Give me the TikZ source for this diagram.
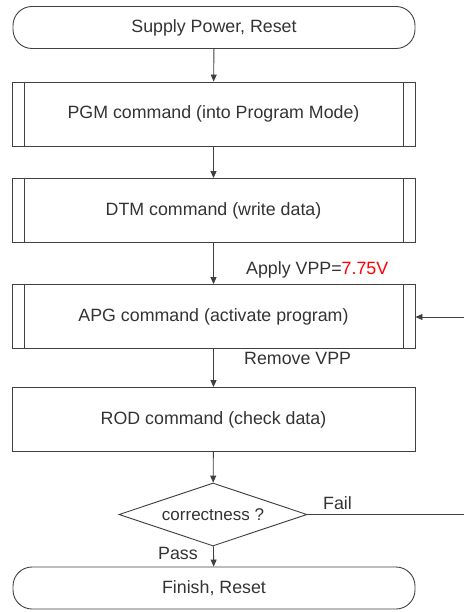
\documentclass[tikz,border=0pt]{standalone}
\usepackage{fontspec}
\setmainfont{Liberation Sans}
\usetikzlibrary{shapes.geometric,arrows.meta}
\definecolor{linegray}{gray}{0.25}
\definecolor{textgray}{gray}{0.2}
\tikzset{
  every node/.style={font=\fontsize{17.8}{20}\selectfont, text=textgray},
  base/.style={draw=linegray, line width=0.9pt, inner sep=0pt},
  terminal/.style={base, rectangle, rounded corners=19pt, minimum width=402pt, minimum height=42pt},
  procbox/.style={base, rectangle, minimum width=403pt, minimum height=64pt},
  subproc/.style={procbox, path picture={
      \draw[linegray, line width=0.9pt]
        ([xshift=12pt]path picture bounding box.north west) -- ([xshift=12pt]path picture bounding box.south west)
        ([xshift=-12pt]path picture bounding box.north east) -- ([xshift=-12pt]path picture bounding box.south east);}},
  decision/.style={base, diamond, minimum width=188pt, minimum height=63pt, aspect=3},
  flow/.style={draw=linegray, line width=0.9pt, -{Triangle[length=7pt,width=6pt]}},
  plain/.style={draw=linegray, line width=0.9pt},
  lbl/.style={inner sep=0pt, anchor=west}
}
\begin{document}
\begin{tikzpicture}[x=1pt,y=-1pt]
\useasboundingbox (0,0) rectangle (464,612);
\node[terminal] (start) at (214,27.5) {Supply Power, Reset};
\node[subproc] (pgm) at (213.5,114) {PGM command (into Program Mode)};
\node[subproc] (dtm) at (213.5,210.5) {DTM command (write data)};
\node[subproc] (apg) at (213.5,316.5) {APG command (activate program)};
\node[procbox] (rod) at (213.5,419.5) {ROD command (check data)};
\node[decision] (dec) at (213,514.5) {\fontsize{17}{19}\selectfont correctness ?};
\node[terminal] (fin) at (214,588) {Finish, Reset};
\coordinate (failend) at (464,514.5);
\coordinate (loopin) at (464,317);
\draw[flow] (start) -- (pgm);
\draw[flow] (pgm) -- (dtm);
\draw[flow] (dtm) -- (apg);
\draw[flow] (apg) -- (rod);
\draw[flow] (rod) -- (dec);
\draw[flow] (dec) -- (fin);
\draw[plain] (dec.east) -- (failend);
\draw[flow] (loopin) -- (apg.east |- loopin);
\node[lbl] (apply) at (246,270) {Apply VPP=\textcolor{red}{7.75V}};
\node[lbl] (remove) at (244,358) {Remove VPP};
\node[lbl] (fail) at (323,503) {Fail};
\node[lbl] (pass) at (158,553) {Pass};
\end{tikzpicture}
\end{document}
